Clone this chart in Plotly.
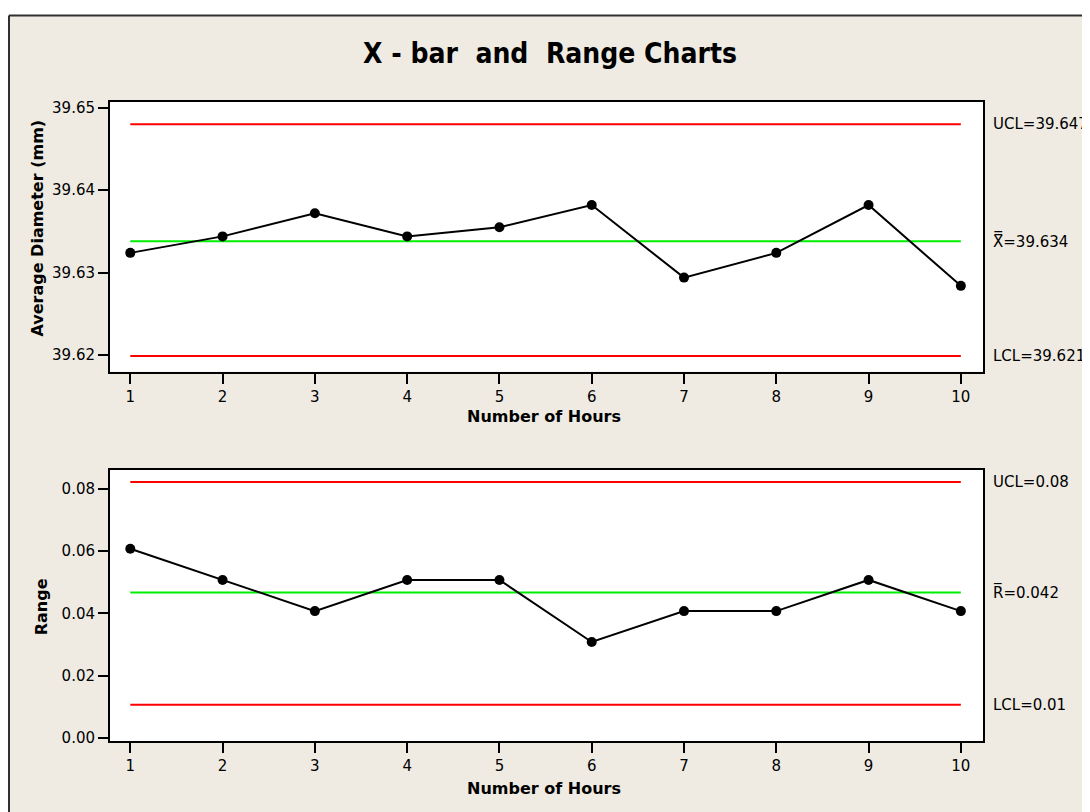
import plotly.graph_objects as go

hours = [1, 2, 3, 4, 5, 6, 7, 8, 9, 10]
xbar = [39.6324, 39.6344, 39.6372, 39.6344, 39.6355, 39.6382, 39.6294, 39.6324, 39.6382, 39.6284]
xbar_ucl, xbar_cl, xbar_lcl = 39.6480, 39.6338, 39.6199
rng = [0.0607, 0.0507, 0.0407, 0.0507, 0.0507, 0.0308, 0.0407, 0.0407, 0.0507, 0.0407]
r_ucl, r_cl, r_lcl = 0.0821, 0.0467, 0.0107
xbar_labels = ["UCL=39.647", "X\u033f=39.634", "LCL=39.621"]
r_labels = ["UCL=0.08", "R\u0305=0.042", "LCL=0.01"]

OFF = 8  # page body margin
W, H = 1090 - OFF, 812 - OFF
BEIGE = "#EFEBE2"
FONT = "DejaVu Sans"

def px(x):
    return (x - OFF) / W

def py(y):
    return 1 - (y - OFF) / H

fig = go.Figure()

for (vals, ucl, cl, lcl, xa, ya) in [
    (xbar, xbar_ucl, xbar_cl, xbar_lcl, "x", "y"),
    (rng, r_ucl, r_cl, r_lcl, "x2", "y2"),
]:
    for lv, col in [(ucl, "#FF0000"), (lcl, "#FF0000"), (cl, "#00EE00")]:
        fig.add_trace(go.Scatter(x=[hours[0], hours[-1]], y=[lv, lv], mode="lines",
                                 line=dict(color=col, width=2), xaxis=xa, yaxis=ya,
                                 showlegend=False, hoverinfo="skip"))
    fig.add_trace(go.Scatter(x=hours, y=vals, mode="lines+markers",
                             line=dict(color="black", width=2),
                             marker=dict(color="black", size=10),
                             xaxis=xa, yaxis=ya, showlegend=False))

axis_common = dict(showline=True, linecolor="black", linewidth=2, mirror=True,
                   ticks="outside", ticklen=10, tickwidth=2, tickcolor="black",
                   showgrid=False, zeroline=False,
                   tickfont=dict(family=FONT, size=15, color="black"))

fig.update_layout(
    width=W, height=H,
    margin=dict(l=0, r=0, t=0, b=0),
    paper_bgcolor=BEIGE, plot_bgcolor="white",
    xaxis=dict(domain=[px(110), px(983)], range=[0.78, 10.24], tickvals=hours,
               anchor="y", **axis_common),
    yaxis=dict(domain=[py(372.7), py(100)], range=[39.6180, 39.6507],
               tickvals=[39.62, 39.63, 39.64, 39.65], ticktext=["39.62", "39.63", "39.64", "39.65"],
               anchor="x", **axis_common),
    xaxis2=dict(domain=[px(110), px(983)], range=[0.78, 10.24], tickvals=hours,
                anchor="y2", **axis_common),
    yaxis2=dict(domain=[py(746.7), py(471.7)], range=[-0.00108, 0.0861],
                tickvals=[0, 0.02, 0.04, 0.06, 0.08], ticktext=["0.00", "0.02", "0.04", "0.06", "0.08"],
                anchor="x2", **axis_common),
)

ann = []
ann.append(dict(text="<b>X - bar  and  Range Charts</b>", x=px(550), y=py(51), xref="paper", yref="paper",
                showarrow=False, xanchor="center", yanchor="middle",
                font=dict(family="DejaVu Sans Condensed, DejaVu Sans", size=28, color="black")))
for yv in [418, 794]:
    ann.append(dict(text="<b>Number of Hours</b>", x=px(544), y=py(yv), xref="paper", yref="paper",
                    showarrow=False, xanchor="center", yanchor="middle",
                    font=dict(family=FONT, size=16, color="black")))
ann.append(dict(text="<b>Average Diameter (mm)</b>", x=px(38), y=py(228), xref="paper", yref="paper",
                showarrow=False, textangle=-90, xanchor="center", yanchor="middle",
                font=dict(family=FONT, size=16, color="black")))
ann.append(dict(text="<b>Range</b>", x=px(41), y=py(611), xref="paper", yref="paper",
                showarrow=False, textangle=-90, xanchor="center", yanchor="middle",
                font=dict(family=FONT, size=16, color="black")))
for labels, vals, ya in [(xbar_labels, [xbar_ucl, xbar_cl, xbar_lcl], "y"),
                         (r_labels, [r_ucl, r_cl, r_lcl], "y2")]:
    for t, v in zip(labels, vals):
        ann.append(dict(text=t, x=px(991), y=v, xref="paper", yref=ya, showarrow=False,
                        xanchor="left", yanchor="middle",
                        font=dict(family=FONT, size=15, color="black")))
fig.update_layout(annotations=ann)

fig.update_layout(shapes=[
    dict(type="rect", xref="paper", yref="paper", x0=-0.01, x1=1.01, y0=py(12.5), y1=1.01,
         fillcolor="white", line=dict(width=0), layer="above"),
    dict(type="line", xref="paper", yref="paper", x0=px(9), x1=1.01, y0=py(12.5), y1=py(12.5),
         line=dict(color="#303030", width=2), layer="above"),
    dict(type="line", xref="paper", yref="paper", x0=px(9), x1=px(9), y0=-0.01, y1=py(12.5),
         line=dict(color="#303030", width=2), layer="above"),
])

fig.write_html("out.html")
